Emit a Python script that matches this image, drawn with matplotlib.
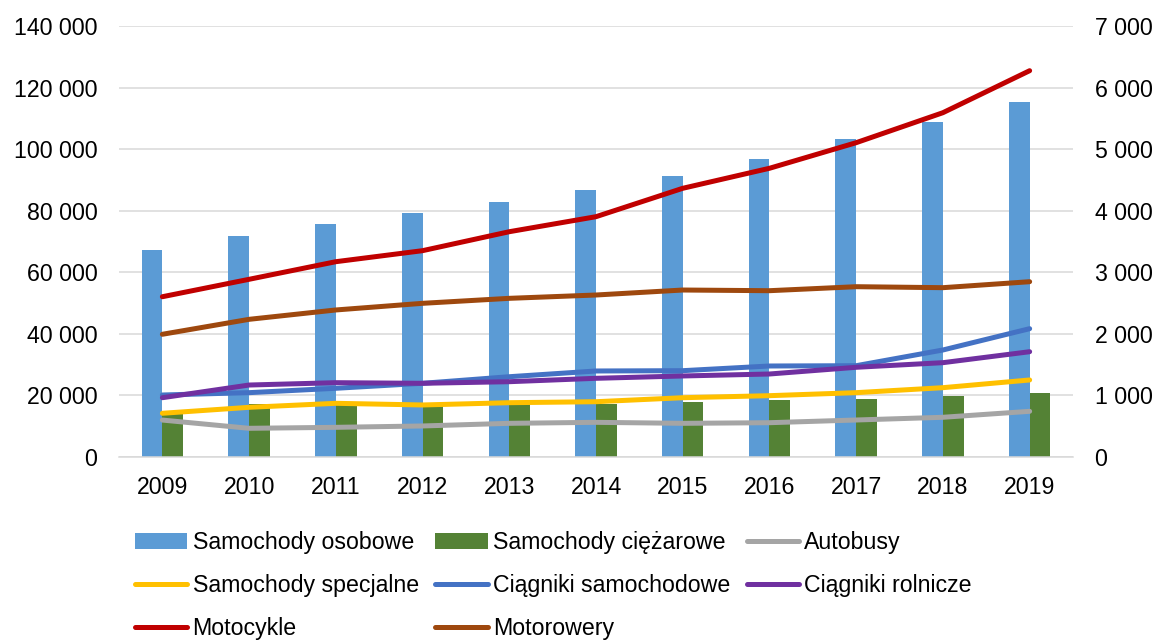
import matplotlib.pyplot as plt
import numpy as np
from matplotlib.ticker import FuncFormatter

plt.rcParams["font.family"] = ["Liberation Sans", "DejaVu Sans"]

years = ["2009", "2010", "2011", "2012", "2013", "2014",
         "2015", "2016", "2017", "2018", "2019"]

# słupki - oś lewa
osobowe = [67200, 71900, 75700, 79100, 82800, 86600, 91200, 96800, 103200, 108900, 115300]
ciezarowe = [14600, 17200, 17400, 16800, 17200, 17300, 17800, 18400, 19000, 19900, 20900]

# linie - oś prawa
autobusy = [600, 466, 482, 504, 547, 563, 547, 557, 601, 645, 742]
specjalne = [710, 807, 872, 845, 882, 898, 963, 996, 1045, 1126, 1251]
ciagniki_sam = [1007, 1045, 1116, 1197, 1304, 1397, 1402, 1478, 1483, 1738, 2084]
ciagniki_rol = [963, 1169, 1207, 1197, 1223, 1278, 1316, 1348, 1457, 1532, 1710]
motocykle = [2603, 2886, 3172, 3351, 3659, 3903, 4364, 4689, 5105, 5592, 6274]
motorowery = [1993, 2236, 2388, 2496, 2577, 2631, 2712, 2701, 2766, 2750, 2847]

FS = 16.7
GRID = "#D9D9D9"


def fmt_space(v, pos):
    return f"{int(v):,}".replace(",", " ")


fig = plt.figure(figsize=(11.57, 6.4), dpi=100)
ax = fig.add_axes([119 / 1157, 1 - 457 / 640, 954 / 1157, 431 / 640])
ax2 = ax.twinx()

x = np.arange(len(years))
w = 0.239
b1 = ax.bar(x - w / 2, osobowe, w, color="#5B9BD5", label="Samochody osobowe", zorder=2)
b2 = ax.bar(x + w / 2, ciezarowe, w, color="#548235", label="Samochody ciężarowe", zorder=2)

lw = 3.6
series = [
    (autobusy, "#A5A5A5", "Autobusy"),
    (specjalne, "#FFC000", "Samochody specjalne"),
    (ciagniki_sam, "#4472C4", "Ciągniki samochodowe"),
    (ciagniki_rol, "#7030A0", "Ciągniki rolnicze"),
    (motocykle, "#C00000", "Motocykle"),
    (motorowery, "#9E480E", "Motorowery"),
]
lines = {}
for vals, col, lab in series:
    (ln,) = ax2.plot(x, vals, color=col, lw=lw, label=lab,
                     solid_capstyle="round", solid_joinstyle="round")
    lines[lab] = ln

ax.set_xlim(-0.5, len(years) - 0.5)
ax.set_ylim(0, 140000)
ax.set_yticks(np.arange(0, 140001, 20000))
ax2.set_ylim(0, 7000)
ax2.set_yticks(np.arange(0, 7001, 1000))
ax.yaxis.set_major_formatter(FuncFormatter(fmt_space))
ax2.yaxis.set_major_formatter(FuncFormatter(fmt_space))
ax.set_xticks(x)
ax.set_xticklabels(years)

ax.grid(axis="y", color=GRID, lw=1.1, zorder=0)
ax.set_axisbelow(True)
for a in (ax, ax2):
    for s in a.spines.values():
        s.set_visible(False)
    a.tick_params(length=0, labelsize=FS, colors="black")
ax.spines["bottom"].set_visible(True)
ax.spines["bottom"].set_color(GRID)
ax.spines["bottom"].set_linewidth(1.1)
ax.tick_params(axis="y", pad=15.5)
ax.tick_params(axis="x", pad=14)
ax2.tick_params(axis="y", pad=15.5)

handles = [b1, lines["Samochody specjalne"], lines["Motocykle"],
           b2, lines["Ciągniki samochodowe"], lines["Motorowery"],
           lines["Autobusy"], lines["Ciągniki rolnicze"]]
labels = [h.get_label() for h in handles]
fig.legend(handles, labels, ncol=3, loc="upper left",
           bbox_to_anchor=(135 / 1157, 1 - 531 / 640),
           frameon=False, fontsize=FS, borderpad=0, borderaxespad=0,
           handlelength=2.26, handletextpad=0.22, columnspacing=0.72,
           labelspacing=0.87)

fig.savefig("out.png", dpi=100)
